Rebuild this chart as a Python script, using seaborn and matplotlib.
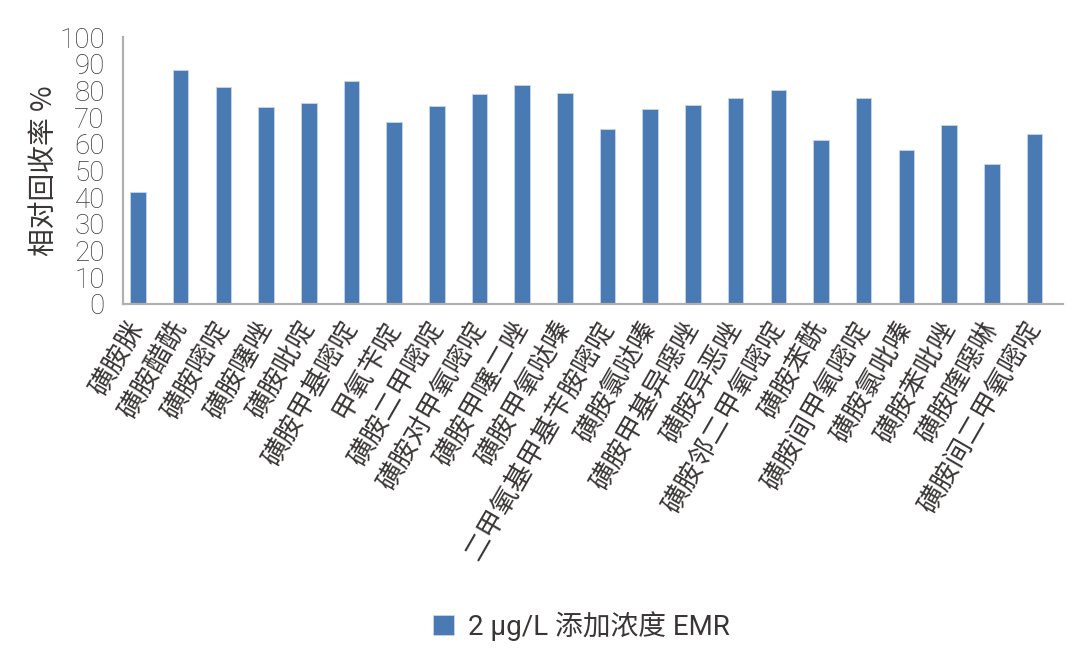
import matplotlib
matplotlib.use("Agg")
import matplotlib.pyplot as plt
import seaborn as sns
import pandas as pd

categories = ["磺胺脒", "磺胺醋酰", "磺胺嘧啶", "磺胺噻唑", "磺胺吡啶", "磺胺甲基嘧啶",
              "甲氧苄啶", "磺胺二甲嘧啶", "磺胺对甲氧嘧啶", "磺胺甲噻二唑", "磺胺甲氧哒嗪",
              "二甲氧基甲基苄胺嘧啶", "磺胺氯哒嗪", "磺胺甲基异噁唑", "磺胺异恶唑",
              "磺胺邻二甲氧嘧啶", "磺胺苯酰", "磺胺间甲氧嘧啶", "磺胺氯吡嗪", "磺胺苯吡唑",
              "磺胺喹噁啉", "磺胺间二甲氧嘧啶"]
values = [42, 87.6, 81.2, 73.6, 75.1, 83.5, 68.0, 74.1, 78.5, 82.1, 79.1,
          65.5, 73.1, 74.5, 77.0, 80.0, 61.3, 77.0, 57.7, 66.9, 52.4, 63.8]
series_name = "2 μg/L 添加浓度 EMR"
yticks = [0, 10, 20, 30, 40, 50, 60, 70, 80, 90, 100]
ylabel = "相对回收率 %"

sns.set_theme(style="white")
plt.rcParams['font.family'] = ['Roboto', 'Noto Sans CJK SC', 'DejaVu Sans']

df = pd.DataFrame({"cat": categories, "val": values})

fig = plt.figure(figsize=(10.8, 6.62), dpi=100)
ax = fig.add_axes([0.1139, 0.5408, 0.8704, 0.4033])

sns.barplot(data=df, x="cat", y="val", color="#4a7ab4", width=0.365,
            edgecolor="#c9d6ea", linewidth=0.6, saturation=1,
            label=series_name, ax=ax)

text_color = "#3a3636"
ax.set_ylim(0, 100)
ax.set_yticks(yticks)
ax.set_yticklabels([str(t) for t in yticks], fontsize=20, color=text_color,
                   family=['Roboto', 'DejaVu Sans'], fontweight='light')
ax.set_xlim(-0.35, len(categories) - 1 + 0.67)
ax.set_xlabel("")
ax.set_ylabel(ylabel, fontsize=20, color=text_color,
              family=['Noto Sans CJK SC', 'DejaVu Sans'], fontweight='light',
              labelpad=0)
ax.tick_params(axis='both', length=0)
ax.tick_params(axis='y', pad=13)
ax.tick_params(axis='x', pad=14)

ax.set_xticks(range(len(categories)))
ax.set_xticklabels(categories, rotation=60, ha='right', va='center',
                   rotation_mode='anchor', fontsize=19.5, color=text_color,
                   family=['Noto Sans CJK SC', 'DejaVu Sans'], fontweight='light')

for side in ["top", "right"]:
    ax.spines[side].set_visible(False)
for side in ["left", "bottom"]:
    ax.spines[side].set_color("#b0b0b0")
    ax.spines[side].set_linewidth(1.6)

ax.legend(loc='center', bbox_to_anchor=(0.488, -1.206), frameon=False,
          handlelength=0.75, handleheight=0.75, handletextpad=0.5,
          labelcolor=text_color,
          prop={'family': ['Roboto', 'Noto Sans CJK SC', 'DejaVu Sans'],
                'size': 20, 'weight': 'normal'})

fig.savefig("out.png", dpi=100, facecolor="white")
